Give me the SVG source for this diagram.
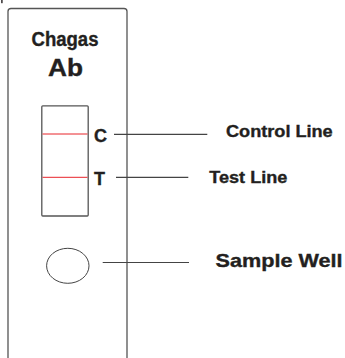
<svg xmlns="http://www.w3.org/2000/svg" width="345" height="358" viewBox="0 0 345 358">
<style>
.t{font-family:"Liberation Sans",Arial,Helvetica,sans-serif;font-weight:bold;fill:#231f20;stroke:#231f20;stroke-width:0.35}
.edge{stroke:#444;stroke-width:1.2;fill:none}
.frame{stroke:#555;stroke-width:1.3;fill:#fff}
.red{stroke:#e8242b;stroke-width:1}
</style>
<rect width="345" height="358" fill="#fff"/>
<rect x="1.2" y="0" width="1.4" height="3.2" fill="#231f20"/>
<g id="strip">
<path class="frame" d="M8,359 L8,11.5 Q8,8.5 11,8.5 L124,8.5 Q127,8.5 127,11.5 L127,359"/>
<text class="t" x="65" y="45.5" font-size="19.5" text-anchor="middle" textLength="67" lengthAdjust="spacingAndGlyphs">Chagas</text>
<text class="t" x="65.5" y="76" font-size="23" text-anchor="middle" textLength="35" lengthAdjust="spacingAndGlyphs" stroke-width="0.6">Ab</text>
</g>
<g id="window">
<rect x="41.8" y="105.8" width="46.4" height="110.2" rx="1" class="frame" stroke="#666"/>
<line class="red" x1="42.5" y1="134" x2="87.5" y2="134"/>
<line class="red" x1="42.5" y1="177.3" x2="87.5" y2="177.3"/>
<text class="t" x="94" y="142.3" font-size="18">C</text>
<text class="t" x="94" y="185" font-size="18">T</text>
</g>
<g id="sample-well">
<ellipse cx="67.8" cy="265.8" rx="21.2" ry="17.5" fill="none" stroke="#444" stroke-width="1"/>
</g>
<g id="connectors">
<line class="edge" x1="114" y1="134.3" x2="207.3" y2="134.3"/>
<line class="edge" x1="116" y1="177.3" x2="188.3" y2="177.3"/>
<line class="edge" x1="102.7" y1="262.5" x2="189" y2="262.5"/>
</g>
<g id="labels">
<text class="t" x="226" y="137.3" font-size="16" textLength="106.7" lengthAdjust="spacingAndGlyphs">Control Line</text>
<text class="t" x="209.3" y="183.3" font-size="16.3" textLength="78" lengthAdjust="spacingAndGlyphs">Test Line</text>
<text class="t" x="215.5" y="266.5" font-size="18.5" textLength="127" lengthAdjust="spacingAndGlyphs">Sample Well</text>
</g>
</svg>
